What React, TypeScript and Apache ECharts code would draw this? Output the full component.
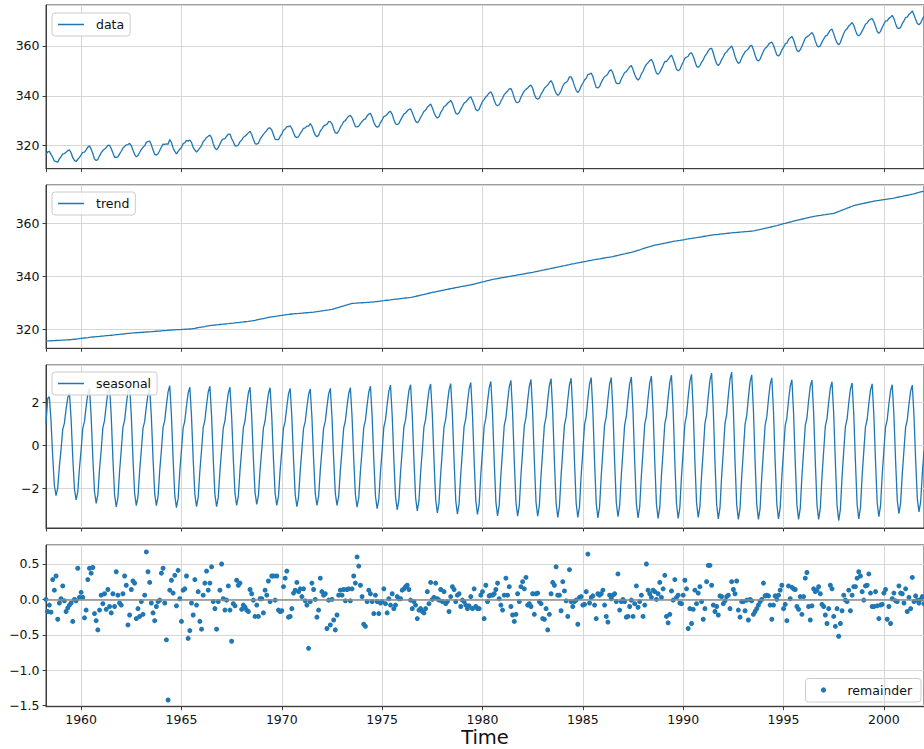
import React, { useEffect, useRef } from "react";
import * as echarts from "echarts";

// Monthly CO2 series (ppm), Mauna Loa, 1958-04 .. 2002-01, decomposed with STL.
const START_YEAR = 1958.25;
const END_YEAR = 2002.0;

// Trend component, one row per calendar year
const trend = [
  315.45, 315.48, 315.52, 315.55, 315.59, 315.62, 315.66, 315.69, 315.73,
  315.76, 315.80, 315.83, 315.87, 315.90, 315.94, 315.97, 316.05, 316.13, 316.20, 316.28, 316.36,
  316.44, 316.52, 316.60, 316.68, 316.75, 316.83, 316.91, 316.97, 317.03, 317.09, 317.15, 317.21,
  317.28, 317.34, 317.40, 317.46, 317.52, 317.58, 317.64, 317.71, 317.77, 317.84, 317.91, 317.98,
  318.05, 318.11, 318.18, 318.25, 318.32, 318.38, 318.45, 318.50, 318.54, 318.59, 318.63, 318.68,
  318.72, 318.77, 318.81, 318.86, 318.90, 318.95, 318.99, 319.04, 319.10, 319.15, 319.20, 319.25,
  319.31, 319.36, 319.41, 319.46, 319.52, 319.57, 319.62, 319.66, 319.69, 319.73, 319.76, 319.80,
  319.83, 319.87, 319.90, 319.94, 319.97, 320.01, 320.04, 320.15, 320.26, 320.38, 320.49, 320.60,
  320.71, 320.82, 320.93, 321.05, 321.16, 321.27, 321.38, 321.45, 321.51, 321.58, 321.64, 321.71,
  321.77, 321.84, 321.90, 321.97, 322.03, 322.10, 322.16, 322.23, 322.31, 322.38, 322.45, 322.53,
  322.60, 322.67, 322.75, 322.82, 322.89, 322.97, 323.04, 323.17, 323.30, 323.44, 323.57, 323.70,
  323.83, 323.96, 324.09, 324.23, 324.36, 324.49, 324.62, 324.71, 324.80, 324.88, 324.97, 325.06,
  325.15, 325.24, 325.33, 325.42, 325.50, 325.59, 325.68, 325.73, 325.79, 325.84, 325.89, 325.95,
  326.00, 326.05, 326.11, 326.16, 326.21, 326.27, 326.32, 326.41, 326.51, 326.60, 326.70, 326.79,
  326.89, 326.98, 327.07, 327.17, 327.26, 327.36, 327.45, 327.64, 327.82, 328.01, 328.19, 328.38,
  328.57, 328.75, 328.94, 329.12, 329.31, 329.49, 329.68, 329.72, 329.76, 329.81, 329.85, 329.89,
  329.93, 329.97, 330.01, 330.06, 330.10, 330.14, 330.18, 330.26, 330.34, 330.41, 330.49, 330.57,
  330.65, 330.72, 330.80, 330.88, 330.96, 331.03, 331.11, 331.19, 331.27, 331.34, 331.42, 331.50,
  331.58, 331.65, 331.73, 331.81, 331.89, 331.96, 332.04, 332.19, 332.34, 332.49, 332.64, 332.79,
  332.94, 333.08, 333.23, 333.38, 333.53, 333.68, 333.83, 333.96, 334.09, 334.22, 334.35, 334.48,
  334.62, 334.75, 334.88, 335.01, 335.14, 335.27, 335.40, 335.52, 335.64, 335.76, 335.88, 336.00,
  336.12, 336.24, 336.36, 336.48, 336.60, 336.72, 336.84, 337.00, 337.16, 337.32, 337.48, 337.64,
  337.80, 337.95, 338.11, 338.27, 338.43, 338.59, 338.75, 338.86, 338.98, 339.09, 339.20, 339.32,
  339.43, 339.54, 339.66, 339.77, 339.88, 340.00, 340.11, 340.22, 340.33, 340.45, 340.56, 340.67,
  340.78, 340.89, 341.00, 341.12, 341.23, 341.34, 341.45, 341.58, 341.72, 341.85, 341.98, 342.12,
  342.25, 342.38, 342.52, 342.65, 342.78, 342.92, 343.05, 343.18, 343.32, 343.45, 343.58, 343.72,
  343.85, 343.98, 344.12, 344.25, 344.38, 344.52, 344.65, 344.77, 344.90, 345.02, 345.14, 345.26,
  345.39, 345.51, 345.63, 345.75, 345.88, 346.00, 346.12, 346.23, 346.34, 346.45, 346.55, 346.66,
  346.77, 346.88, 346.99, 347.10, 347.20, 347.31, 347.42, 347.57, 347.72, 347.86, 348.01, 348.16,
  348.31, 348.45, 348.60, 348.75, 348.90, 349.04, 349.19, 349.39, 349.59, 349.79, 349.98, 350.18,
  350.38, 350.58, 350.78, 350.98, 351.17, 351.37, 351.57, 351.70, 351.83, 351.96, 352.09, 352.22,
  352.35, 352.47, 352.60, 352.73, 352.86, 352.99, 353.12, 353.23, 353.33, 353.44, 353.54, 353.65,
  353.76, 353.86, 353.97, 354.07, 354.18, 354.28, 354.39, 354.49, 354.59, 354.70, 354.80, 354.90,
  355.00, 355.10, 355.20, 355.31, 355.41, 355.51, 355.61, 355.68, 355.75, 355.82, 355.89, 355.96,
  356.03, 356.10, 356.17, 356.24, 356.31, 356.38, 356.45, 356.50, 356.56, 356.61, 356.67, 356.72,
  356.78, 356.83, 356.88, 356.94, 356.99, 357.05, 357.10, 357.24, 357.39, 357.53, 357.68, 357.82,
  357.97, 358.11, 358.25, 358.40, 358.54, 358.69, 358.83, 359.00, 359.16, 359.33, 359.49, 359.66,
  359.83, 359.99, 360.16, 360.32, 360.49, 360.65, 360.82, 360.97, 361.12, 361.27, 361.42, 361.57,
  361.72, 361.86, 362.01, 362.16, 362.31, 362.46, 362.61, 362.70, 362.80, 362.89, 362.98, 363.08,
  363.17, 363.26, 363.36, 363.45, 363.54, 363.64, 363.73, 363.98, 364.23, 364.47, 364.72, 364.97,
  365.22, 365.46, 365.71, 365.96, 366.21, 366.45, 366.70, 366.84, 366.98, 367.12, 367.26, 367.40,
  367.54, 367.68, 367.82, 367.96, 368.10, 368.24, 368.38, 368.48, 368.58, 368.67, 368.77, 368.87,
  368.97, 369.06, 369.16, 369.26, 369.36, 369.45, 369.55, 369.68, 369.82, 369.95, 370.08, 370.21,
  370.35, 370.48, 370.61, 370.74, 370.88, 371.01, 371.14, 371.32, 371.50, 371.67, 371.85, 372.03,
  372.21,
];

// Seasonal component, one row per calendar year
const seasonal = [
  1.0, 2.18, 2.26, 1.13, -0.51, -1.87, -2.34, -1.99, -0.98,
  -0.2, 0.74, 1.03, 1.67, 2.21, 2.45, 1.23, -0.56, -2.03, -2.54, -2.16, -1.07,
  -0.22, 0.8, 1.11, 1.8, 2.39, 2.65, 1.33, -0.59, -2.16, -2.7, -2.3, -1.13,
  -0.23, 0.82, 1.15, 1.86, 2.46, 2.73, 1.37, -0.63, -2.3, -2.87, -2.44, -1.21,
  -0.22, 0.83, 1.16, 1.88, 2.49, 2.77, 1.39, -0.62, -2.25, -2.81, -2.39, -1.18,
  -0.22, 0.8, 1.11, 1.8, 2.39, 2.65, 1.33, -0.62, -2.25, -2.81, -2.39, -1.18,
  -0.23, 0.83, 1.16, 1.88, 2.49, 2.77, 1.39, -0.64, -2.32, -2.9, -2.47, -1.22,
  -0.23, 0.81, 1.13, 1.84, 2.43, 2.7, 1.35, -0.63, -2.28, -2.85, -2.42, -1.2,
  -0.23, 0.83, 1.16, 1.87, 2.48, 2.75, 1.38, -0.63, -2.28, -2.85, -2.42, -1.2,
  -0.22, 0.81, 1.13, 1.84, 2.43, 2.7, 1.35, -0.62, -2.24, -2.8, -2.38, -1.18,
  -0.22, 0.81, 1.13, 1.84, 2.43, 2.7, 1.35, -0.61, -2.2, -2.75, -2.34, -1.16,
  -0.22, 0.8, 1.13, 1.82, 2.41, 2.68, 1.34, -0.62, -2.24, -2.8, -2.38, -1.18,
  -0.23, 0.8, 1.11, 1.8, 2.39, 2.65, 1.33, -0.63, -2.28, -2.85, -2.42, -1.2,
  -0.22, 0.79, 1.1, 1.78, 2.36, 2.62, 1.31, -0.62, -2.24, -2.8, -2.38, -1.18,
  -0.22, 0.8, 1.11, 1.8, 2.39, 2.65, 1.33, -0.62, -2.24, -2.8, -2.38, -1.18,
  -0.23, 0.8, 1.13, 1.82, 2.41, 2.68, 1.34, -0.63, -2.3, -2.88, -2.45, -1.21,
  -0.24, 0.83, 1.16, 1.87, 2.48, 2.75, 1.38, -0.65, -2.36, -2.95, -2.51, -1.24,
  -0.24, 0.84, 1.18, 1.9, 2.52, 2.8, 1.4, -0.66, -2.4, -3.0, -2.55, -1.26,
  -0.24, 0.85, 1.18, 1.92, 2.54, 2.82, 1.41, -0.67, -2.44, -3.05, -2.59, -1.28,
  -0.25, 0.86, 1.2, 1.94, 2.57, 2.85, 1.43, -0.69, -2.52, -3.15, -2.68, -1.32,
  -0.26, 0.86, 1.21, 1.95, 2.58, 2.87, 1.44, -0.7, -2.56, -3.2, -2.72, -1.34,
  -0.26, 0.88, 1.23, 1.99, 2.63, 2.92, 1.46, -0.71, -2.58, -3.22, -2.74, -1.35,
  -0.26, 0.89, 1.25, 2.02, 2.67, 2.97, 1.49, -0.72, -2.62, -3.28, -2.79, -1.38,
  -0.26, 0.91, 1.27, 2.05, 2.72, 3.02, 1.51, -0.73, -2.64, -3.3, -2.81, -1.39,
  -0.26, 0.92, 1.29, 2.08, 2.75, 3.06, 1.53, -0.73, -2.64, -3.3, -2.81, -1.39,
  -0.27, 0.93, 1.3, 2.11, 2.79, 3.1, 1.55, -0.74, -2.68, -3.35, -2.85, -1.41,
  -0.27, 0.94, 1.31, 2.12, 2.81, 3.12, 1.56, -0.74, -2.68, -3.35, -2.85, -1.41,
  -0.27, 0.95, 1.32, 2.14, 2.84, 3.15, 1.58, -0.74, -2.7, -3.38, -2.87, -1.42,
  -0.27, 0.95, 1.32, 2.14, 2.84, 3.15, 1.58, -0.73, -2.66, -3.32, -2.82, -1.39,
  -0.27, 0.95, 1.34, 2.16, 2.86, 3.18, 1.59, -0.74, -2.7, -3.38, -2.87, -1.42,
  -0.27, 0.97, 1.35, 2.19, 2.9, 3.22, 1.61, -0.75, -2.72, -3.4, -2.89, -1.43,
  -0.27, 0.98, 1.37, 2.22, 2.93, 3.26, 1.63, -0.75, -2.72, -3.4, -2.89, -1.43,
  -0.27, 0.99, 1.39, 2.24, 2.97, 3.3, 1.65, -0.74, -2.68, -3.35, -2.85, -1.41,
  -0.27, 1.01, 1.41, 2.28, 3.02, 3.36, 1.68, -0.75, -2.74, -3.42, -2.91, -1.44,
  -0.28, 1.02, 1.43, 2.31, 3.06, 3.4, 1.7, -0.76, -2.76, -3.45, -2.93, -1.45,
  -0.28, 0.98, 1.38, 2.23, 2.95, 3.28, 1.64, -0.76, -2.76, -3.45, -2.93, -1.45,
  -0.27, 0.94, 1.32, 2.14, 2.83, 3.14, 1.57, -0.75, -2.74, -3.42, -2.91, -1.44,
  -0.28, 0.92, 1.28, 2.07, 2.75, 3.05, 1.53, -0.76, -2.76, -3.45, -2.93, -1.45,
  -0.28, 0.91, 1.28, 2.07, 2.74, 3.04, 1.52, -0.76, -2.76, -3.45, -2.93, -1.45,
  -0.28, 0.89, 1.24, 2.01, 2.66, 2.96, 1.48, -0.77, -2.8, -3.5, -2.98, -1.47,
  -0.27, 0.87, 1.22, 1.97, 2.61, 2.9, 1.45, -0.75, -2.74, -3.42, -2.91, -1.44,
  -0.27, 0.86, 1.2, 1.94, 2.57, 2.86, 1.43, -0.73, -2.66, -3.32, -2.82, -1.39,
  -0.25, 0.85, 1.18, 1.92, 2.54, 2.82, 1.41, -0.7, -2.54, -3.18, -2.7, -1.34,
  -0.25, 0.84, 1.18, 1.9, 2.52, 2.8, 1.4, -0.68, -2.48, -3.1, -2.64, -1.3,
  -0.25,
];

// Remainder component, monthly from the first observation
const remainder = [
  0.0, -0.17, -0.08, -0.18, 0.28, 0.13, 0.33, -0.28, -0.05, 0.01,
  0.19, -0.02, -0.17, -0.12, -0.08, -0.05, -0.31, 0.0, -0.02, 0.44,
  0.03, 0.1, 0.03, -0.26, -0.15, 0.28, 0.44, 0.37, 0.45, -0.2,
  -0.3, -0.43, -0.15, 0.06, -0.06, 0.08, -0.14, 0.14, -0.1, -0.19,
  0.08, -0.1, 0.39, 0.06, -0.05, -0.08, 0.08, 0.33, 0.2, -0.36,
  -0.22, 0.14, 0.26, 0.23, -0.27, -0.13, -0.24, -0.03, -0.21, 0.06,
  0.67, 0.39, 0.24, -0.05, -0.19, -0.3, -0.1, -0.03, -0.01, 0.37,
  0.44, -0.05, -0.57, -1.42, 0.13, 0.27, 0.09, 0.34, -0.09, 0.41,
  0.01, -0.31, 0.13, 0.15, 0.33, -0.55, -0.44, -0.05, -0.22, 0.28,
  -0.08, 0.11, -0.31, -0.42, 0.06, 0.23, 0.4, 0.13, 0.23, 0.46,
  -0.03, -0.13, -0.42, -0.03, 0.13, 0.5, 0.01, -0.15, -0.01, 0.19,
  -0.15, -0.59, -0.06, -0.09, 0.27, 0.2, 0.23, -0.14, -0.08, -0.11,
  -0.15, -0.17, 0.14, 0.08, -0.01, -0.24, -0.08, -0.24, 0.01, 0.01,
  -0.19, 0.13, 0.06, 0.26, -0.03, 0.33, 0.33, -0.01, 0.33, -0.15,
  -0.17, -0.16, 0.18, 0.3, 0.4, -0.25, -0.24, -0.13, 0.09, 0.13,
  0.24, 0.11, 0.15, 0.04, 0.15, -0.02, -0.08, -0.69, -0.03, 0.23,
  0.14, 0.0, -0.25, -0.15, 0.3, 0.11, 0.06, 0.08, -0.41, -0.01,
  -0.36, 0.0, -0.29, -0.43, -0.22, 0.06, 0.13, 0.06, 0.14, -0.02,
  0.14, 0.15, -0.02, 0.15, 0.33, 0.23, 0.6, 0.47, 0.2, 0.04,
  -0.35, -0.38, -0.03, 0.13, 0.08, -0.03, -0.2, 0.06, -0.03, -0.2,
  -0.05, -0.03, 0.15, -0.06, -0.19, 0.01, -0.08, 0.08, -0.13, -0.08,
  0.04, 0.01, 0.01, 0.13, 0.15, 0.18, 0.2, 0.14, -0.01, -0.13,
  -0.03, -0.08, -0.27, -0.15, -0.13, -0.17, -0.19, -0.13,
  0.11, -0.06, 0.24, 0.0, 0.03, 0.23, 0.01, -0.01, 0.14, -0.03,
  0.11, -0.06, -0.03, -0.17, 0.04, 0.18, 0.14, -0.03, 0.06, 0.08,
  -0.1, -0.01, -0.03, -0.08, -0.13, -0.09, 0.04, -0.13, 0.15, -0.1,
  -0.13, -0.13, 0.06, 0.11, -0.27, 0.2, -0.03, 0.05, 0.06, 0.06,
  0.08, 0.14, 0.23, 0.01, -0.08, -0.15, 0.06, 0.3, 0.06, 0.18,
  -0.1, -0.22, -0.31, -0.21, 0.08, -0.03, 0.18, 0.25, 0.15, 0.31,
  -0.08, -0.06, -0.1, 0.08, -0.21, 0.08, 0.09, -0.03, -0.06, -0.27,
  -0.28, -0.13, -0.43, -0.21, 0.08, 0.24, 0.2, 0.46, 0.06, 0.06,
  -0.16, 0.25, 0.12, -0.02, -0.24, 0.42, -0.03, -0.1, -0.03, -0.01,
  -0.35, 0.03, 0.04, -0.08, -0.07, 0.11, 0.64, -0.05, 0.03, 0.05,
  -0.08, -0.27, 0.08, 0.06, 0.08, 0.13, -0.08, -0.24, -0.32, 0.06,
  0.01, 0.06, 0.08, -0.03, 0.36, -0.15, -0.03, 0.0, -0.03, -0.25,
  -0.24, -0.1, -0.01, -0.24, -0.06, 0.19, -0.11, -0.03, 0.06, -0.24,
  -0.08, 0.5, 0.13, 0.08, 0.03, 0.13, 0.11, 0.0, 0.08, 0.24,
  0.03, 0.15, 0.34, -0.24, -0.33, -0.21, 0.12, -0.01, 0.28,
  0.03, 0.06, -0.05, -0.06, 0.06, 0.27, 0.15, -0.41, -0.13, -0.34,
  -0.14, 0.13, -0.06, 0.09, 0.18, -0.03, -0.28, -0.13, 0.25, 0.48,
  0.48, 0.2, -0.08, -0.17, -0.1, -0.22, 0.05, 0.04, -0.06, -0.02,
  0.04, 0.06, -0.13, 0.25, 0.14, 0.08, 0.26, -0.15, -0.25, -0.03,
  -0.03, -0.16, -0.01, -0.29, 0.0, -0.02, -0.21, -0.17, -0.13, -0.08,
  -0.03, 0.0, 0.23, 0.05, 0.06, 0.05, -0.08, -0.28, -0.08, 0.05,
  0.0, 0.06, 0.13, 0.2, -0.13, -0.07, -0.3, 0.19, 0.01, 0.17,
  0.15, 0.14, -0.1, -0.14, 0.04, -0.21, 0.04, 0.3, 0.38, -0.1,
  -0.29, -0.09, 0.15, 0.11, 0.13, 0.18, 0.08, -0.07, -0.1, -0.22,
  -0.34, -0.13, 0.2, 0.15, -0.24, -0.38, -0.13, -0.52, -0.34, -0.16,
  0.06, -0.01, -0.03, 0.13, -0.16, 0.06, 0.18, 0.18, 0.3, 0.39,
  0.33, 0.11, -0.01, 0.19, 0.2, 0.36, 0.09, -0.1, -0.1, 0.11,
  -0.09, -0.27, -0.08, -0.07, 0.09, 0.14, -0.28, -0.1, -0.34, 0.01,
  0.09, -0.02, -0.03, 0.19, 0.09, 0.08, -0.05, 0.15, -0.17, 0.03,
  -0.13, 0.31, -0.03, 0.05, -0.01, -0.05, 0.0, 0.04, -0.06,
];

const FONT = "DejaVu Sans";
const BLUE = "#1f77b4";
const FRAME = "#3c3c3c";
const GRID_LINE = "#d6d6d6";
const TEXT = "#111111";

const n = Math.min(trend.length, seasonal.length, remainder.length);
const times = Array.from({ length: n }, (_, i) => START_YEAR + i / 12);
// observed series is the sum of its three STL components
const observed = times.map((_, i) => trend[i] + seasonal[i] + remainder[i]);

const pairs = (vals: number[]) => times.map((t, i) => [t, vals[i]]);

const minus = (v: number, digits: number) => {
  const s = Math.abs(v).toFixed(digits);
  return v < -1e-9 ? "\u2212" + s : s;
};

const panels = [
  { top: 5, height: 163.7, min: 310.77, max: 376.45, split: 3, fmt: (v: number) => String(Math.round(v)) },
  { top: 185, height: 163.3, min: 312.7, max: 374.49, split: 3, fmt: (v: number) => String(Math.round(v)) },
  { top: 365, height: 163, min: -3.847, max: 3.735, split: 4, fmt: (v: number) => minus(Math.round(v), 0) },
  { top: 545, height: 161.7, min: -1.514, max: 0.768, split: 5, fmt: (v: number) => minus(v, 1) },
];

// legend entries: handle, a small spacer, then the label
const legendBase = {
  orient: "horizontal" as const,
  selectedMode: false,
  itemWidth: 26,
  itemHeight: 1.5,
  icon: "rect",
  itemGap: 0,
  padding: [5, 6, 5, 6],
  borderColor: "#cccccc",
  borderWidth: 1,
  borderRadius: 3,
  backgroundColor: "rgba(255,255,255,0.85)",
  formatter: (name: string) => `{gap| }${name}`,
  textStyle: {
    fontSize: 12.5,
    fontFamily: FONT,
    color: TEXT,
    rich: { gap: { width: 7, fontSize: 12.5 } },
  },
};

export default function App() {
  const ref = useRef<HTMLDivElement>(null);

  useEffect(() => {
    if (!ref.current) return;
    const chart = echarts.init(ref.current, undefined, { renderer: "svg" });

    const option: any = {
      animation: false,
      backgroundColor: "#ffffff",
      textStyle: { fontFamily: FONT },
      grid: panels.map((p) => ({
        left: 46,
        width: 882,
        top: p.top,
        height: p.height,
        show: true,
        borderColor: FRAME,
        borderWidth: 1,
        backgroundColor: "transparent",
      })),
      xAxis: panels.map((_, i) => ({
        type: "value",
        gridIndex: i,
        min: START_YEAR,
        max: END_YEAR,
        splitNumber: 9,
        axisLine: { show: true, onZero: false, lineStyle: { color: FRAME, width: 1 } },
        axisTick: { show: true, length: 3.5, lineStyle: { color: FRAME } },
        axisLabel: {
          show: i === 3,
          showMinLabel: false,
          showMaxLabel: false,
          margin: 6,
          fontSize: 12.5,
          fontFamily: FONT,
          color: TEXT,
          formatter: (v: number) => String(Math.round(v)),
        },
        splitLine: { show: true, lineStyle: { color: GRID_LINE, width: 1 } },
        name: i === 3 ? "Time" : "",
        nameLocation: "middle",
        nameGap: 21,
        nameTextStyle: { fontSize: 19.5, fontFamily: FONT, color: TEXT },
      })),
      yAxis: panels.map((p, i) => ({
        type: "value",
        gridIndex: i,
        min: p.min,
        max: p.max,
        splitNumber: p.split,
        axisLine: { show: true, onZero: false, lineStyle: { color: FRAME, width: 1 } },
        axisTick: { show: true, length: 3.5, lineStyle: { color: FRAME } },
        axisLabel: {
          showMinLabel: false,
          showMaxLabel: false,
          margin: 6.5,
          fontSize: 12.5,
          fontFamily: FONT,
          color: TEXT,
          formatter: p.fmt,
        },
        splitLine: { show: true, lineStyle: { color: GRID_LINE, width: 1 } },
      })),
      legend: [
        { ...legendBase, data: ["data"], left: 52, top: 13 },
        { ...legendBase, data: ["trend"], left: 52, top: 192 },
        { ...legendBase, data: ["seasonal"], left: 52, top: 372 },
      ],
      // key for the scatter panel, in its lower right corner
      graphic: [
        {
          type: "group",
          z: 100,
          children: [
            {
              type: "rect",
              shape: { x: 805.5, y: 678.5, width: 115.5, height: 23.5, r: 3 },
              style: { fill: "rgba(255,255,255,0.85)", stroke: "#cccccc", lineWidth: 1 },
            },
            {
              type: "circle",
              shape: { cx: 823.5, cy: 690, r: 2.6 },
              style: { fill: BLUE },
            },
            {
              type: "text",
              x: 847.5,
              y: 690.5,
              style: {
                text: "remainder",
                fill: TEXT,
                fontSize: 12.5,
                fontFamily: FONT,
                verticalAlign: "middle",
                align: "left",
              },
            },
          ],
        },
      ],
      series: [
        {
          name: "data",
          type: "line",
          xAxisIndex: 0,
          yAxisIndex: 0,
          data: pairs(observed),
          symbol: "none",
          lineStyle: { color: BLUE, width: 1.3 },
          itemStyle: { color: BLUE },
        },
        {
          name: "trend",
          type: "line",
          xAxisIndex: 1,
          yAxisIndex: 1,
          data: pairs(trend),
          symbol: "none",
          lineStyle: { color: BLUE, width: 1.3 },
          itemStyle: { color: BLUE },
        },
        {
          name: "seasonal",
          type: "line",
          xAxisIndex: 2,
          yAxisIndex: 2,
          data: pairs(seasonal),
          symbol: "none",
          lineStyle: { color: BLUE, width: 1.3 },
          itemStyle: { color: BLUE },
        },
        {
          name: "remainder",
          type: "scatter",
          xAxisIndex: 3,
          yAxisIndex: 3,
          data: pairs(remainder),
          symbol: "circle",
          symbolSize: 5,
          itemStyle: { color: BLUE, opacity: 1 },
          markLine: {
            silent: true,
            symbol: ["none", "none"],
            label: { show: false },
            lineStyle: { color: "#8c8c8c", width: 1.5, type: "solid" },
            data: [{ yAxis: 0 }],
          },
        },
      ],
    };

    chart.setOption(option);
    return () => chart.dispose();
  }, []);

  return (
    <div
      ref={ref}
      style={{ position: "fixed", left: 0, top: 0, width: 924, height: 749, background: "#fff" }}
    />
  );
}
